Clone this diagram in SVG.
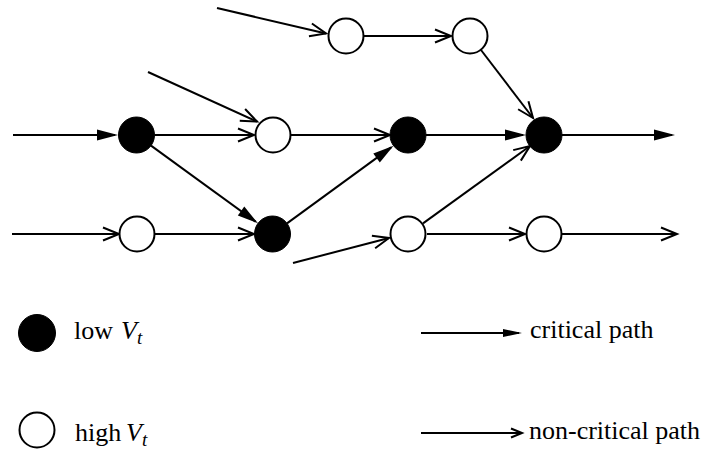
<svg xmlns="http://www.w3.org/2000/svg" width="706" height="450" viewBox="0 0 706 450">
<style>
.e{stroke:#000;stroke-width:2;fill:none}
.fn{fill:#000;stroke:#000;stroke-width:1}
.on{fill:#fff;stroke:#000;stroke-width:2}
.t{font-family:"Liberation Serif","Times New Roman",serif;font-size:26px;fill:#000}
.m{font-style:italic}
.s{font-style:italic;font-size:19px}
</style>
<defs>
<marker id="fa" markerUnits="userSpaceOnUse" markerWidth="24" markerHeight="14" viewBox="0 0 24 14" refX="18" refY="7" orient="auto" overflow="visible"><path d="M0,1.5 L21,7 L0,12.5 Z" fill="#000"/></marker>
<marker id="oa" markerUnits="userSpaceOnUse" markerWidth="20" markerHeight="16" viewBox="0 0 20 16" refX="17" refY="8" orient="auto" overflow="visible"><path d="M1,1.5 L17,8 L1,14.5" fill="none" stroke="#000" stroke-width="2"/></marker>
<marker id="fl" markerUnits="userSpaceOnUse" markerWidth="22" markerHeight="10" viewBox="0 0 22 10" refX="16" refY="5" orient="auto" overflow="visible"><path d="M0,1 L19,5 L0,9 Z" fill="#000"/></marker>
<marker id="ol" markerUnits="userSpaceOnUse" markerWidth="14" markerHeight="12" viewBox="0 0 14 12" refX="12" refY="6" orient="auto" overflow="visible"><path d="M1,1.5 L12,6 L1,10.5" fill="none" stroke="#000" stroke-width="2"/></marker>
</defs>
<g id="connectors">
<line class="e" x1="13" y1="135" x2="115" y2="135" marker-end="url(#fa)"/>
<line class="e" x1="155" y1="135" x2="254" y2="135" marker-end="url(#oa)"/>
<line class="e" x1="148" y1="72" x2="257" y2="121.5" marker-end="url(#oa)"/>
<line class="e" x1="217" y1="8" x2="326" y2="33.5" marker-end="url(#oa)"/>
<line class="e" x1="151" y1="145.6" x2="255.6" y2="221.6" marker-end="url(#fa)"/>
<line class="e" x1="12" y1="234" x2="119" y2="234" marker-end="url(#oa)"/>
<line class="e" x1="155" y1="234" x2="254" y2="234" marker-end="url(#oa)"/>
<line class="e" x1="287" y1="223.4" x2="391.1" y2="147.4" marker-end="url(#fa)"/>
<line class="e" x1="291" y1="135" x2="390" y2="135" marker-end="url(#oa)"/>
<line class="e" x1="364" y1="36" x2="451" y2="36" marker-end="url(#oa)"/>
<line class="e" x1="481" y1="50" x2="533" y2="118" marker-end="url(#oa)"/>
<line class="e" x1="426" y1="135" x2="523" y2="135" marker-end="url(#fa)"/>
<line class="e" x1="423" y1="223.4" x2="530" y2="146" marker-end="url(#oa)"/>
<line class="e" x1="562" y1="135" x2="672" y2="135" marker-end="url(#fa)"/>
<line class="e" x1="293" y1="263" x2="389" y2="238" marker-end="url(#oa)"/>
<line class="e" x1="427" y1="234" x2="525" y2="234" marker-end="url(#oa)"/>
<line class="e" x1="562" y1="234" x2="677" y2="234" marker-end="url(#oa)"/>
</g>
<g id="nA"><circle class="fn" cx="136.5" cy="135" r="18"/></g>
<g id="nB"><circle class="on" cx="273" cy="135" r="17.5"/></g>
<g id="nC"><circle class="on" cx="137" cy="234" r="17.5"/></g>
<g id="nD"><circle class="fn" cx="272.5" cy="234" r="18"/></g>
<g id="nE"><circle class="on" cx="346" cy="36" r="17.5"/></g>
<g id="nF"><circle class="on" cx="470" cy="36" r="17.5"/></g>
<g id="nG"><circle class="fn" cx="408" cy="135" r="18"/></g>
<g id="nH"><circle class="fn" cx="544" cy="135" r="18"/></g>
<g id="nI"><circle class="on" cx="408" cy="234" r="17.5"/></g>
<g id="nJ"><circle class="on" cx="544" cy="234" r="17.5"/></g>
<g id="legend-low">
<circle class="fn" cx="37" cy="333" r="18.5"/>
<text class="t" x="74" y="339">low</text>
<text class="t m" x="121" y="339">V</text>
<text class="t s" x="137" y="344">t</text>
</g>
<g id="legend-high">
<circle class="on" cx="37" cy="430" r="17.5"/>
<text class="t" x="75" y="441">high</text>
<text class="t m" x="126" y="441">V</text>
<text class="t s" x="142" y="446">t</text>
</g>
<g id="legend-critical">
<line class="e" x1="421" y1="333" x2="519" y2="333" marker-end="url(#fl)"/>
<text class="t" x="530" y="338">critical path</text>
</g>
<g id="legend-noncritical">
<line class="e" x1="421" y1="433" x2="522" y2="433" marker-end="url(#ol)"/>
<text class="t" x="529" y="439">non-critical path</text>
</g>
</svg>
